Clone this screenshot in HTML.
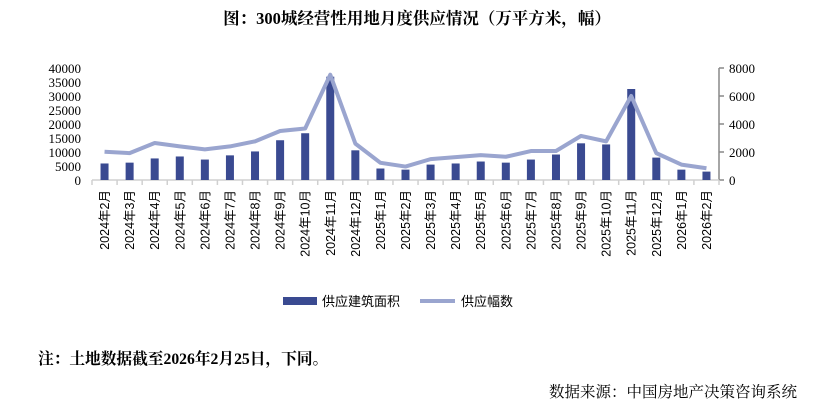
<!DOCTYPE html>
<html><head><meta charset="utf-8"><style>
body{margin:0;background:#fff;width:832px;height:405px;overflow:hidden;font-family:"Liberation Serif","Noto Serif CJK SC",serif}
</style></head><body>
<svg id="c" width="832" height="405" xmlns="http://www.w3.org/2000/svg"></svg>
<script>
const categories=["2024年2月","2024年3月","2024年4月","2024年5月","2024年6月","2024年7月","2024年8月","2024年9月","2024年10月","2024年11月","2024年12月","2025年1月","2025年2月","2025年3月","2025年4月","2025年5月","2025年6月","2025年7月","2025年8月","2025年9月","2025年10月","2025年11月","2025年12月","2026年1月","2026年2月"];
const areaValues=[5900,6200,7700,8400,7300,8800,10200,14200,16700,36900,10600,4100,3700,5500,5900,6600,6200,7300,9100,13100,12700,32500,8000,3700,3000];
const countValues=[2020,1920,2640,2400,2190,2400,2760,3500,3680,7520,2600,1230,960,1490,1630,1780,1660,2070,2070,3150,2760,6000,1920,1100,840];
const leftTicks=[0,5000,10000,15000,20000,25000,30000,35000,40000];
const rightTicks=[0,2000,4000,6000,8000];
const NS="http://www.w3.org/2000/svg",svg=document.getElementById('c');
const x0=92,x1=719,yB=180,yT=68;
const band=(x1-x0)/categories.length;
const xc=i=>x0+band*(i+0.5);
const yL=v=>yB-(v/40000)*(yB-yT);
const yR=v=>yB-(v/8000)*(yB-yT);
function mk(t,a,txt){const e=document.createElementNS(NS,t);for(const k in a)e.setAttribute(k,a[k]);if(txt!=null)e.textContent=txt;svg.appendChild(e);return e;}
let e;
e=mk('text',{x:417,y:24,'text-anchor':'middle','font-size':16.5,'font-weight':'bold',fill:'#000'},'图：300城经营性用地月度供应情况（万平方米，幅）');


leftTicks.forEach(v=>{
 e=mk('text',{x:81,y:yL(v)+5,'text-anchor':'end','font-size':13,fill:'#000'},String(v));
 
 
});
e=mk('line',{x1:719,y1:yT,x2:719,y2:yB,stroke:'#888','stroke-width':1.5});


rightTicks.forEach(v=>{
 e=mk('line',{x1:719,y1:yR(v),x2:724,y2:yR(v),stroke:'#888','stroke-width':1.5});
 
 
 e=mk('text',{x:729,y:yR(v)+5,'font-size':13,fill:'#000'},String(v));
 
 
});
e=mk('line',{x1:x0,y1:yB,x2:x1,y2:yB,stroke:'#d0d0d0','stroke-width':1.5});


for(let i=0;i<=categories.length;i++){
 e=mk('line',{x1:x0+band*i,y1:yB,x2:x0+band*i,y2:yB+5,stroke:'#d0d0d0','stroke-width':1.5});
 
 
}
categories.forEach((c,i)=>{
 e=mk('text',{x:0,y:0,transform:`translate(${xc(i)+4.5},190) rotate(-90)`,'text-anchor':'end','font-size':12.5,'font-family':'"Liberation Sans","Noto Sans CJK SC",sans-serif',fill:'#000'},c);
 
 
});
areaValues.forEach((v,i)=>{
 e=mk('rect',{x:xc(i)-4,y:yL(v),width:8,height:yB-yL(v),fill:'#3a4a91'});
 
 
});
e=mk('polyline',{points:countValues.map((v,i)=>xc(i)+','+yR(v)).join(' '),fill:'none',stroke:'#9aa5cf','stroke-width':4,'stroke-linejoin':'round'});


e=mk('rect',{x:283,y:297,width:34,height:8,fill:'#3a4a91'});


e=mk('text',{x:322,y:306,'font-size':13,'font-family':'"Liberation Sans","Noto Sans CJK SC",sans-serif',fill:'#000'},'供应建筑面积');


e=mk('line',{x1:420,y1:301,x2:455,y2:301,stroke:'#9aa5cf','stroke-width':4});


e=mk('text',{x:461,y:306,'font-size':13,'font-family':'"Liberation Sans","Noto Sans CJK SC",sans-serif',fill:'#000'},'供应幅数');


e=mk('text',{x:38,y:364,'font-size':15.7,'font-weight':'bold',fill:'#000'},'注：土地数据截至2026年2月25日，下同。');


e=mk('text',{x:797,y:397,'text-anchor':'end','font-size':15.5,fill:'#000'},'数据来源：中国房地产决策咨询系统');


</script>
</body></html>
